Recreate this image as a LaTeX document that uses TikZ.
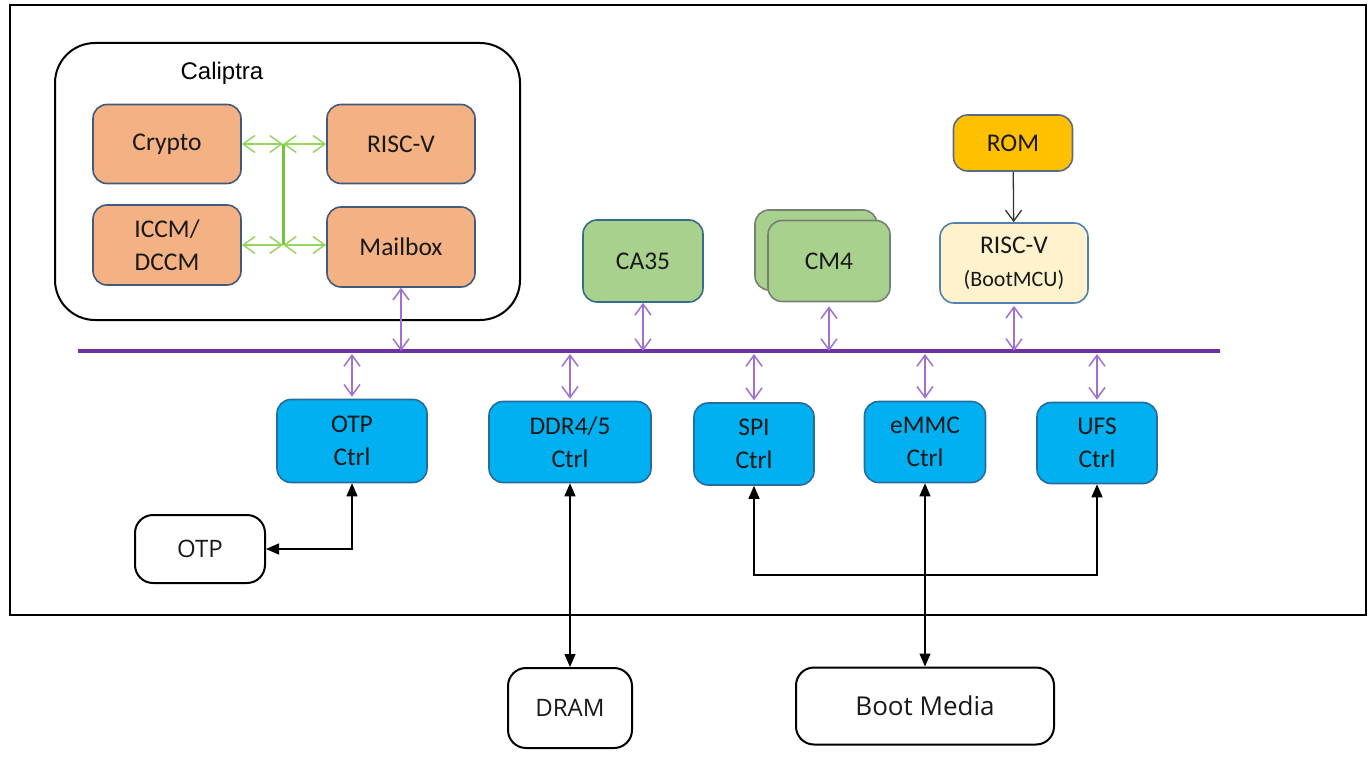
\documentclass[tikz,border=0pt]{standalone}
\usepackage{fontspec}
\setmainfont{Carlito}
\newfontfamily\titlefont{Liberation Sans}
\newfontfamily\extfont{Open Sans}
\usetikzlibrary{arrows.meta}

\definecolor{calorange}{RGB}{244,177,131}
\definecolor{calborder}{RGB}{66,90,124}
\definecolor{coregreen}{RGB}{169,209,142}
\definecolor{caborder}{RGB}{52,108,140}
\definecolor{cmborder}{RGB}{118,128,118}
\definecolor{romyellow}{RGB}{255,192,0}
\definecolor{romborder}{RGB}{88,108,130}
\definecolor{mcucream}{RGB}{255,242,204}
\definecolor{mcuborder}{RGB}{80,130,180}
\definecolor{ctrlblue}{RGB}{0,176,240}
\definecolor{ctrlborder}{RGB}{38,108,158}
\definecolor{buspurple}{RGB}{112,48,160}
\definecolor{linkpurple}{RGB}{160,112,210}
\definecolor{linkgreen}{RGB}{150,214,96}
\definecolor{trunkgreen}{RGB}{118,196,58}

\begin{document}
\begin{tikzpicture}
	[x=1pt,y=-1pt,>={Triangle[length=13pt,width=11pt]},
		font=\fontsize{25.5}{33}\selectfont,
		base node/.style={draw,rounded corners=14pt,align=center,line width=1.6pt,inner sep=0pt,text=black!90},
		cal node/.style={base node,fill=calorange,draw=calborder,minimum width=148pt,minimum height=79pt},
		ctrl node/.style={base node,fill=ctrlblue,draw=ctrlborder,minimum width=120pt,minimum height=82pt},
		ext node/.style={base node,fill=white,draw=black,line width=2pt,rounded corners=18pt,font=\extfont\fontsize{24}{30}\selectfont},
		green link/.style={draw=linkgreen,line width=1.5pt,{Straight Barb[length=12pt,width=17pt]}-{Straight Barb[length=12pt,width=17pt]}},
		purple link/.style={draw=linkpurple,line width=1.5pt,{Straight Barb[length=11pt,width=16pt]}-{Straight Barb[length=11pt,width=16pt]}},
		black link/.style={draw=black,line width=1.3pt}]

	\useasboundingbox (0,0) rectangle (1372,760);
	\draw[line width=2pt] (10,5) rectangle (1366,615);

	% Caliptra
	\draw[line width=2pt,rounded corners=40pt] (55,43) rectangle (520,320);
	\node[font=\titlefont\fontsize{24}{30}\selectfont] (caltitle) at (222,73) {Caliptra};
	\node[cal node] (crypto) at (167,144) {Crypto};
	\node[cal node] (calrisc) at (401,144) {RISC-V};
	\node[cal node,minimum height=80pt] (ccm) at (167,245) {ICCM/\\DCCM};
	\node[cal node,minimum height=80pt] (mailbox) at (401,247) {Mailbox};
	\coordinate (jtop) at (283,144);
	\coordinate (jbot) at (283,245);
	\draw[trunkgreen,line width=3pt] (jtop) -- (jbot);
	\path[green link] (crypto.east) -- (jtop);
	\path[green link] (jtop) -- (calrisc.west);
	\path[green link] (ccm.east) -- (jbot);
	\path[green link] (jbot) -- (mailbox.west |- jbot);

	% cores
	\node[base node,fill=coregreen,draw=caborder,minimum width=120pt,minimum height=82pt] (ca35) at (643,261) {CA35};
	\node[base node,fill=coregreen,draw=cmborder,minimum width=122pt,minimum height=80pt] (cm4back) at (816,250) {};
	\node[base node,fill=coregreen,draw=cmborder,minimum width=122pt,minimum height=81pt] (cm4) at (829,261) {CM4};
	\node[base node,fill=romyellow,draw=romborder,minimum width=119pt,minimum height=56pt] (rom) at (1013,143) {ROM};
	\node[base node,fill=mcucream,draw=mcuborder,minimum width=148pt,minimum height=80pt] (bootmcu) at (1014,263) {RISC-V\\{\fontsize{22}{28}\selectfont(BootMCU)}};
	\draw[black!80,line width=1.3pt,-{Straight Barb[length=11pt,width=16pt]}] (rom) -- (bootmcu);

	% system bus
	\coordinate (busL) at (78,351);
	\coordinate (busR) at (1220,351);
	\draw[buspurple,line width=4pt] (busL) -- (busR);

	% controllers
	\node[ctrl node,minimum width=150pt,minimum height=83pt] (otpctrl) at (352,441) {OTP\\Ctrl};
	\node[ctrl node,minimum width=162pt,minimum height=81pt] (ddrctrl) at (570,442) {DDR4/5\\Ctrl};
	\node[ctrl node] (spictrl) at (754,444) {SPI\\Ctrl};
	\node[ctrl node,minimum width=121pt,minimum height=81pt] (emmcctrl) at (925,442) {eMMC\\Ctrl};
	\node[ctrl node,minimum height=81pt] (ufsctrl) at (1097,443) {UFS\\Ctrl};

	\path[purple link] (mailbox.south) -- (mailbox.south |- busL);
	\path[purple link] (ca35.south) -- (ca35.south |- busL);
	\path[purple link,shorten <=4pt] (cm4.south) -- (cm4.south |- busL);
	\path[purple link,shorten <=2pt] (bootmcu.south) -- (bootmcu.south |- busL);
	\path[purple link,shorten <=3pt,shorten >=2pt] (otpctrl.north |- busL) -- (otpctrl.north);
	\path[purple link,shorten <=3pt,shorten >=2pt] (ddrctrl.north |- busL) -- (ddrctrl.north);
	\path[purple link,shorten <=3pt,shorten >=2pt] (spictrl.north |- busL) -- (spictrl.north);
	\path[purple link,shorten <=3pt,shorten >=2pt] (emmcctrl.north |- busL) -- (emmcctrl.north);
	\path[purple link,shorten <=3pt,shorten >=2pt] (ufsctrl.north |- busL) -- (ufsctrl.north);

	% external parts
	\node[ext node,minimum width=130pt,minimum height=68pt] (otp) at (200,549) {OTP};
	\node[ext node,minimum width=124pt,minimum height=80pt] (dram) at (570,708) {DRAM};
	\node[ext node,minimum width=258pt,minimum height=77pt,font=\extfont\fontsize{26}{30}\selectfont] (bootmedia) at (925,706) {Boot Media};
	\coordinate (mediabus) at (925,575);

	\path[black link,<->] (otpctrl.south) |- (otp.east);
	\path[black link,<->] (ddrctrl.south) -- (dram.north);
	\path[black link,<->] (spictrl.south) |- (mediabus) -| (ufsctrl.south);
	\path[black link,<->] (emmcctrl.south) -- (bootmedia.north);
\end{tikzpicture}
\end{document}
